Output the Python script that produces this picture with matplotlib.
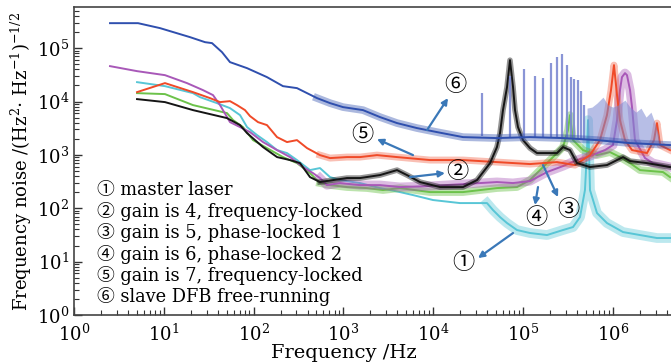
import numpy as np
import matplotlib
matplotlib.use('Agg')
import matplotlib.pyplot as plt
from matplotlib import ticker

plt.rcParams['font.family'] = ['DejaVu Serif', 'Noto Sans CJK SC']
plt.rcParams['mathtext.fontset'] = 'dejavuserif'

# values, as log10(frequency / Hz) and log10(noise)
# (1) master laser
cyan_lf = [0.702, 1.013, 1.325, 1.403, 1.592, 1.737, 1.849, 1.927, 2.038, 2.149,
           2.261, 2.372, 2.483, 2.628, 2.739, 2.851, 2.962, 3.185, 3.408, 3.630,
           3.775, 3.998, 4.298, 4.599, 4.666, 4.744, 4.822, 4.933, 5.078, 5.267,
           5.445, 5.557, 5.635, 5.690, 5.713, 5.724, 5.735, 5.746, 5.824, 5.935,
           6.114, 6.303, 6.492, 6.637]
cyan_lv = [4.363, 4.288, 4.157, 4.082, 3.970, 3.876, 3.745, 3.521, 3.371, 3.240,
           3.090, 3.034, 2.903, 2.715, 2.753, 2.584, 2.528, 2.472, 2.378, 2.303,
           2.247, 2.154, 2.097, 2.097, 1.966, 1.835, 1.723, 1.592, 1.536, 1.498,
           1.592, 1.648, 1.835, 2.341, 3.090, 3.652, 3.090, 2.341, 1.910, 1.723,
           1.554, 1.498, 1.442, 1.442]

# (2) gain 4, frequency-locked
black_lf = [0.702, 1.013, 1.325, 1.704, 1.849, 1.927, 2.105, 2.261, 2.405, 2.517,
            2.628, 2.739, 2.884, 3.040, 3.185, 3.408, 3.597, 3.708, 3.853, 4.076,
            4.332, 4.488, 4.633, 4.710, 4.744, 4.777, 4.822, 4.855, 4.889, 4.911,
            4.944, 5.000, 5.078, 5.156, 5.379, 5.445, 5.523, 5.601, 5.746, 5.935,
            6.114, 6.192, 6.381, 6.637]
black_lv = [4.045, 3.989, 3.839, 3.689, 3.558, 3.408, 3.146, 2.959, 2.903, 2.846,
            2.584, 2.491, 2.528, 2.566, 2.566, 2.622, 2.715, 2.622, 2.491, 2.397,
            2.397, 2.528, 2.846, 3.146, 3.408, 3.839, 4.270, 4.775, 4.270, 3.839,
            3.521, 3.277, 3.127, 3.034, 3.034, 3.146, 3.090, 2.846, 2.772, 2.809,
            2.959, 2.884, 2.846, 2.772]

# (3) gain 5, phase-locked 1
green_lf = [0.702, 1.013, 1.325, 1.704, 1.771, 1.882, 1.993, 2.149, 2.327, 2.483,
            2.628, 2.739, 2.851, 3.040, 3.263, 3.441, 3.630, 3.964, 4.332, 4.710,
            4.933, 5.078, 5.223, 5.379, 5.445, 5.501, 5.523, 5.557, 5.668, 5.824,
            5.969, 6.080, 6.192, 6.303, 6.559, 6.637]
green_lv = [4.157, 4.139, 3.933, 3.783, 3.652, 3.521, 3.277, 3.127, 2.959, 2.846,
            2.659, 2.472, 2.434, 2.397, 2.378, 2.341, 2.378, 2.303, 2.303, 2.378,
            2.397, 2.528, 2.772, 3.034, 3.146, 3.464, 3.745, 3.277, 3.090, 2.996,
            3.052, 2.959, 2.846, 2.715, 2.678, 2.584]

# (4) gain 6, phase-locked 2
purple_lf = [0.401, 0.702, 1.013, 1.258, 1.437, 1.548, 1.626, 1.737, 1.849, 1.960,
             2.105, 2.261, 2.405, 2.550, 2.661, 2.739, 2.817, 2.962, 3.185, 3.408,
             3.630, 3.964, 4.332, 4.710, 4.889, 5.078, 5.267, 5.445, 5.601, 5.746,
             5.913, 6.002, 6.047, 6.080, 6.102, 6.136, 6.158, 6.192, 6.214, 6.247,
             6.359, 6.448, 6.637]
purple_lv = [4.663, 4.569, 4.494, 4.345, 4.213, 4.120, 3.933, 3.614, 3.521, 3.427,
             3.240, 3.090, 2.959, 2.772, 2.659, 2.566, 2.434, 2.472, 2.434, 2.434,
             2.397, 2.416, 2.453, 2.491, 2.472, 2.509, 2.678, 2.790, 2.903, 2.978,
             3.090, 3.184, 3.652, 4.213, 4.457, 4.532, 4.494, 4.213, 3.895, 3.277,
             2.940, 2.846, 2.772]

# (5) gain 7, frequency-locked
red_lf = [0.702, 1.013, 1.325, 1.514, 1.626, 1.737, 1.815, 1.904, 1.960, 2.049,
          2.149, 2.261, 2.372, 2.483, 2.595, 2.739, 2.851, 3.040, 3.185, 3.374,
          3.597, 3.964, 4.332, 4.710, 5.078, 5.379, 5.579, 5.746, 5.857, 5.935,
          5.980, 6.013, 6.047, 6.080, 6.136, 6.214, 6.381, 6.459, 6.492, 6.526,
          6.637]
red_lv = [4.176, 4.345, 4.176, 4.064, 3.989, 4.007, 3.933, 3.839, 3.727, 3.614,
          3.558, 3.333, 3.240, 3.277, 3.127, 2.996, 2.940, 2.959, 2.959, 2.996,
          2.959, 2.903, 2.903, 2.865, 2.828, 2.865, 2.809, 2.996, 3.277, 3.745,
          4.213, 4.682, 4.120, 3.652, 3.277, 3.090, 3.034, 3.277, 3.596, 3.184,
          3.090]

# (6) slave DFB free-running
blue_lf = [0.401, 0.713, 0.958, 1.292, 1.459, 1.537, 1.648, 1.737, 1.927, 2.149,
           2.327, 2.483, 2.595, 2.706, 2.851, 2.996, 3.218, 3.408, 3.597, 3.820,
           4.042, 4.332, 4.710, 5.078, 5.445, 5.824, 6.192, 6.637]
blue_lv = [5.468, 5.468, 5.375, 5.206, 5.112, 5.094, 4.925, 4.738, 4.625, 4.457,
           4.288, 4.251, 4.157, 4.064, 3.970, 3.895, 3.839, 3.708, 3.596, 3.502,
           3.427, 3.333, 3.315, 3.333, 3.315, 3.277, 3.221, 3.184]

# discrete spurs on the free-running trace
spur_lf = [4.543, 4.855, 5.011, 5.134, 5.223, 5.312, 5.379, 5.434, 5.490, 5.535,
           5.568, 5.612, 5.646, 5.679]
spur_top = [4.157, 4.476, 4.607, 4.476, 4.438, 4.719, 4.831, 4.888, 4.682, 4.457,
            4.419, 4.401, 4.195, 3.933]
spur_base = [3.35, 3.33, 3.33, 3.33, 3.32, 3.32, 3.32, 3.32, 3.31, 3.31,
             3.31, 3.31, 3.30, 3.30]

# dense hump of spurs around 1 MHz
hump_lf = [5.713, 5.768, 5.824, 5.891, 5.947, 6.002, 6.058, 6.136, 6.192, 6.258,
           6.314, 6.370, 6.425, 6.470, 6.514]
hump_top = [3.876, 3.895, 3.970, 4.082, 3.933, 3.895, 3.933, 4.026, 3.895, 3.801,
            3.876, 3.708, 3.801, 3.596, 3.333]
hump_base = [3.28, 3.28, 3.27, 3.26, 3.25, 3.24, 3.23, 3.22, 3.22, 3.21,
             3.21, 3.20, 3.20, 3.19, 3.19]

legend_lines = ['\u2460 master laser',
                '\u2461 gain is 4, frequency-locked',
                '\u2462 gain is 5, phase-locked 1',
                '\u2463 gain is 6, phase-locked 2',
                '\u2464 gain is 7, frequency-locked',
                '\u2465 slave DFB free-running']

c_cyan = '#58c6d6'
c_black = '#151515'
c_green = '#6cc24a'
c_purple = '#a858b8'
c_red = '#f04a28'
c_blue = '#2f4fae'
c_spur = '#7d8ad2'
c_arrow = '#3a78b8'

fig = plt.figure(figsize=(6.71, 3.64), dpi=100)
# right part of the axes runs past the picture edge, like the cropped original
ax = fig.add_axes([74/671, 1-315/364, 628.6/671, 308/364])


def trace(lf, lv, col, band_from=2.7, band_w=4.5, band_a=0.35, z=2):
    f = 10**np.array(lf)
    v = 10**np.array(lv)
    ax.plot(f, v, color=col, lw=1.4, zorder=z)
    m = np.array(lf) >= band_from
    ax.plot(f[m], v[m], color=col, lw=band_w, alpha=band_a, zorder=z,
            solid_joinstyle='round')


trace(cyan_lf, cyan_lv, c_cyan, band_from=4.5, band_w=7, band_a=0.4, z=2)
trace(green_lf, green_lv, c_green, band_w=5.5, band_a=0.45, z=3)
trace(purple_lf, purple_lv, c_purple, band_w=6.5, band_a=0.4, z=3)
trace(red_lf, red_lv, c_red, band_w=5, z=4)
trace(black_lf, black_lv, c_black, band_w=4, band_a=0.45, z=5)

ax.vlines(10**np.array(spur_lf), 10**np.array(spur_base), 10**np.array(spur_top),
          color=c_spur, lw=1.6, alpha=0.9, zorder=6)
ax.fill_between(10**np.array(hump_lf), 10**np.array(hump_base), 10**np.array(hump_top),
                color=c_spur, alpha=0.55, lw=0, zorder=6)
trace(blue_lf, blue_lv, c_blue, band_w=5.5, band_a=0.4, z=7)

ax.set_xscale('log')
ax.set_yscale('log')
ax.set_xlim(1, 1e7)
ax.set_ylim(1, 5.9e5)

# only label the decades that are inside the picture
ax.xaxis.set_major_locator(ticker.FixedLocator(10.0**np.arange(0, 7)))
ax.xaxis.set_minor_locator(ticker.LogLocator(base=10, subs=np.arange(2, 10), numticks=20))
ax.yaxis.set_minor_locator(ticker.LogLocator(base=10, subs=np.arange(2, 10), numticks=20))
ax.xaxis.set_minor_formatter(ticker.NullFormatter())
ax.yaxis.set_minor_formatter(ticker.NullFormatter())

ax.tick_params(which='both', direction='in', labelsize=13, color='#333333')
ax.tick_params(which='major', length=6, width=1)
ax.tick_params(which='minor', length=3.5, width=0.8)
ax.tick_params(axis='x', pad=6)
for s in ax.spines.values():
    s.set_color('#444444')
    s.set_linewidth(1.2)

ax.set_xlabel('Frequency /Hz', fontsize=14)
ax.xaxis.set_label_coords((344 - 74)/628.6, -0.093)
ax.set_ylabel('Frequency noise /(Hz$^2$$\\cdot$ Hz$^{-1}$)$^{-1/2}$', fontsize=13, labelpad=2)

# legend block written as plain text
for i, s in enumerate(legend_lines):
    ax.text(0.036, 0.406 - i*0.0695, s, transform=ax.transAxes, fontsize=12.8,
            va='center', ha='left', zorder=10)

# circled labels with arrows from trace to label
labels = [('\u2465', 4.243, 4.307, 3.931, 3.464, 4.165, 4.064),
          ('\u2464', 3.207, 3.371, 3.775, 2.996, 3.374, 3.296),
          ('\u2461', 4.265, 2.678, 3.742, 2.584, 4.131, 2.659),
          ('\u2460', 4.332, 0.974, 4.889, 1.536, 4.499, 1.067),
          ('\u2463', 5.145, 1.816, 5.167, 2.397, 5.134, 2.060),
          ('\u2462', 5.501, 1.966, 5.223, 2.809, 5.390, 2.210)]
for t, lx, ly, tx, ty, hx, hy in labels:
    ax.text(10**lx, 10**ly, t, fontsize=16, ha='center', va='center', zorder=11)
    ax.annotate('', xy=(10**hx, 10**hy), xytext=(10**tx, 10**ty),
                arrowprops=dict(arrowstyle='-|>', color=c_arrow, lw=1.6,
                                mutation_scale=9, shrinkA=0, shrinkB=0),
                zorder=11)

fig.savefig('out.png', dpi=100)
